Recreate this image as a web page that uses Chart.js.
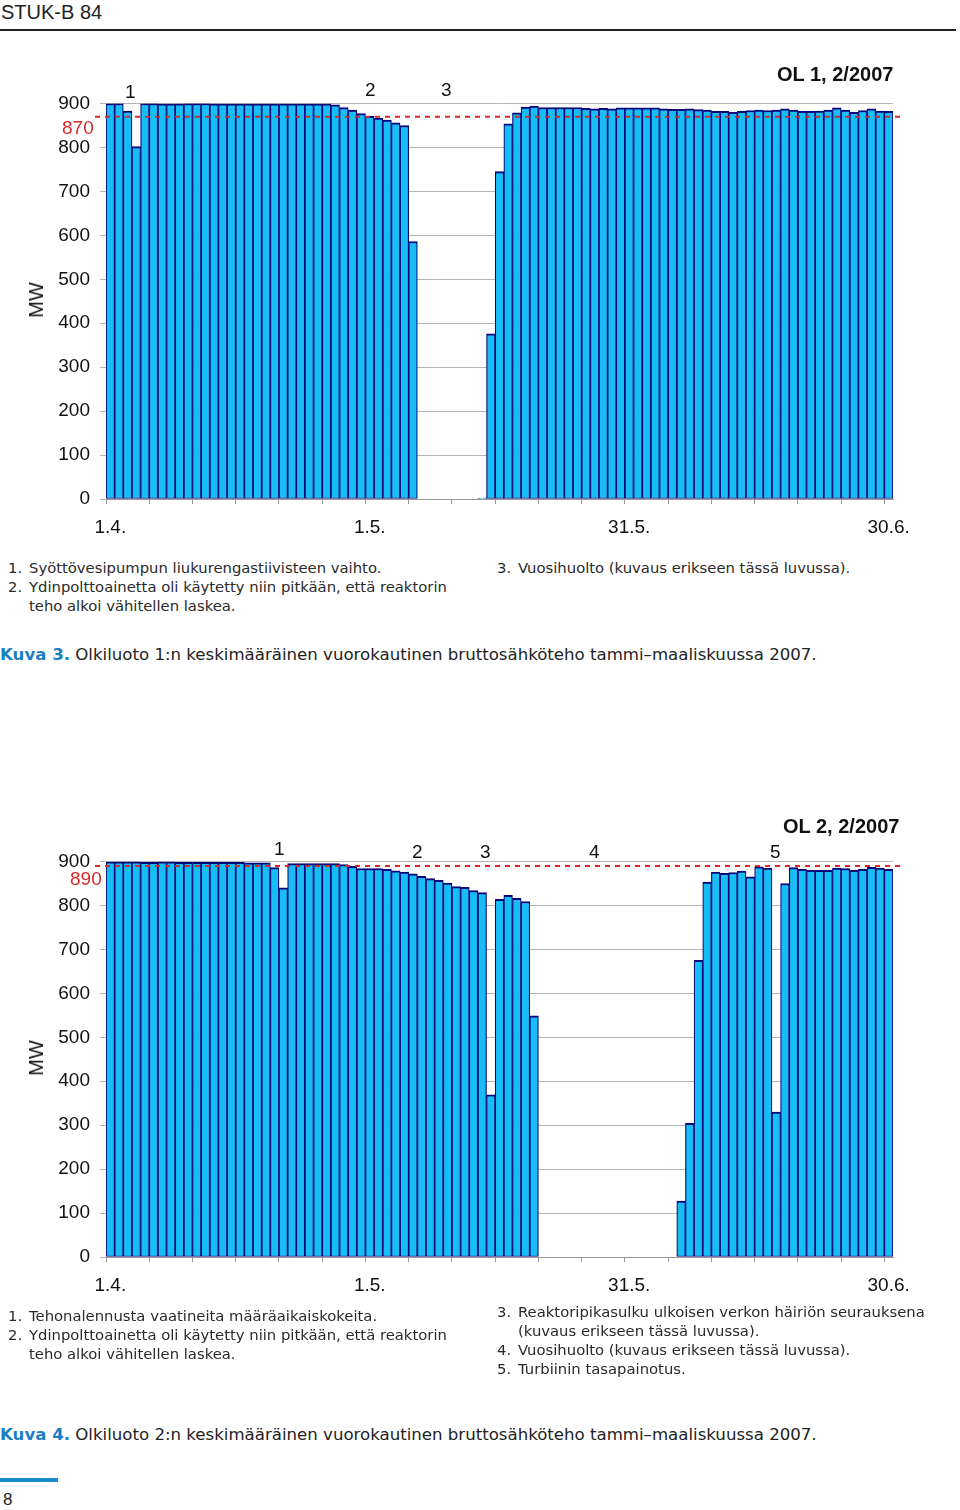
<!DOCTYPE html>
<html>
<head>
<meta charset="utf-8">
<script src="https://cdn.jsdelivr.net/npm/chart.js@4.4.0/dist/chart.umd.min.js"></script>
<style>
  body { margin: 0; width: 960px; height: 1510px; position: relative; background: #fff;
         font-family: "Liberation Sans", Arial, sans-serif; color: #111; overflow: hidden; }
  .t { position: absolute; white-space: nowrap; line-height: 1; }
  .note { position: absolute; white-space: nowrap; font-family: "DejaVu Sans", sans-serif; font-size: 14.8px; line-height: 19px; color: #2a2a2a; }
  .note span { display: inline-block; width: 21px; }
  .note .ind { padding-left: 21px; }
  .cap { position: absolute; left: 0; white-space: nowrap; font-family: "DejaVu Sans", sans-serif; font-size: 16.6px; line-height: 1; color: #222; }
  .cap b { font-weight: bold; color: #1a80c4; }
  canvas { position: absolute; left: 0; }
</style>
</head>
<body>
<div class="t" style="left:1px;top:2px;font-size:20px;color:#222">STUK-B 84</div>
<div style="position:absolute;left:0;top:29px;width:956px;height:2px;background:#222"></div>

<!-- Kuva 3 -->
<canvas id="chart1" width="960" height="510" style="top:40px"></canvas>
<div class="t" style="left:777px;top:64px;font-size:20px;font-weight:bold">OL 1, 2/2007</div>
<div class="t" style="left:125px;top:82px;font-size:19px">1</div>
<div class="t" style="left:365px;top:80px;font-size:19px">2</div>
<div class="t" style="left:441px;top:80px;font-size:19px">3</div>
<div class="t" style="left:62px;top:118px;font-size:19px;color:#d42a2a">870</div>
<div class="t" style="left:36px;top:300px;font-size:20px;transform:translate(-50%,-50%) rotate(-90deg)">MW</div>
<div class="note" style="left:8px;top:558px">
  <div><span>1.</span>Syöttövesipumpun liukurengastiivisteen vaihto.</div>
  <div><span>2.</span>Ydinpolttoainetta oli käytetty niin pitkään, että reaktorin</div>
  <div class="ind">teho alkoi vähitellen laskea.</div>
</div>
<div class="note" style="left:497px;top:558px">
  <div><span>3.</span>Vuosihuolto (kuvaus erikseen tässä luvussa).</div>
</div>
<div class="cap" style="top:647px"><b>Kuva 3.</b> Olkiluoto 1:n keskimääräinen vuorokautinen bruttosähköteho tammi–maaliskuussa 2007.</div>

<!-- Kuva 4 -->
<canvas id="chart2" width="960" height="510" style="top:798px"></canvas>
<div class="t" style="left:783px;top:816px;font-size:20px;font-weight:bold">OL 2, 2/2007</div>
<div class="t" style="left:274px;top:839px;font-size:19px">1</div>
<div class="t" style="left:412px;top:842px;font-size:19px">2</div>
<div class="t" style="left:480px;top:842px;font-size:19px">3</div>
<div class="t" style="left:589px;top:842px;font-size:19px">4</div>
<div class="t" style="left:770px;top:842px;font-size:19px">5</div>
<div class="t" style="left:70px;top:869px;font-size:19px;color:#d42a2a">890</div>
<div class="t" style="left:36px;top:1058px;font-size:20px;transform:translate(-50%,-50%) rotate(-90deg)">MW</div>
<div class="note" style="left:8px;top:1306px">
  <div><span>1.</span>Tehonalennusta vaatineita määräaikaiskokeita.</div>
  <div><span>2.</span>Ydinpolttoainetta oli käytetty niin pitkään, että reaktorin</div>
  <div class="ind">teho alkoi vähitellen laskea.</div>
</div>
<div class="note" style="left:497px;top:1302px">
  <div><span>3.</span>Reaktoripikasulku ulkoisen verkon häiriön seurauksena</div>
  <div class="ind">(kuvaus erikseen tässä luvussa).</div>
  <div><span>4.</span>Vuosihuolto (kuvaus erikseen tässä luvussa).</div>
  <div><span>5.</span>Turbiinin tasapainotus.</div>
</div>
<div class="cap" style="top:1427px"><b>Kuva 4.</b> Olkiluoto 2:n keskimääräinen vuorokautinen bruttosähköteho tammi–maaliskuussa 2007.</div>

<div style="position:absolute;left:0;top:1478px;width:58px;height:4px;background:#1a8ccf"></div>
<div class="t" style="left:3px;top:1491px;font-size:17px;color:#222">8</div>

<script>
// päivät 1.4. - 30.6.
const monthDays = [[4, 30], [5, 31], [6, 30]];
const days = [];
monthDays.forEach(([m, n]) => {
  for (let d = 1; d <= n; d++) days.push(d + '.' + m + '.');
});
const shownLabels = ['1.4.', '1.5.', '31.5.', '30.6.'];
const yTicks = [0, 100, 200, 300, 400, 500, 600, 700, 800, 900];

// OL 1, MW per vuorokausi
const ol1Power = [
  900, 900, 883, 802,
  900, 900, 899, 899, 899, 900, 900, 900, 899, 899, 899, 899, 899, 899, 899, 899, 899, 899, 899, 899, 899,
  899, 897, 891, 885, 877, 871, 867, 862, 856, 850, 586,
  null, null, null, null, null, null, null,
  2, 376, 745, 854, 879,
  892, 894, 891, 891, 891, 891, 891, 889, 888, 889, 888, 890, 890, 890, 890, 890, 888, 887, 887, 888,
  886, 885, 882, 882, 880, 882, 884, 885, 884, 885, 888, 885, 882, 882, 883, 885, 890, 885, 880, 884,
  888, 883, 882
];
const ol1Ref = 870;

// OL 2, MW per vuorokausi
const ol2Power = [
  899, 899, 899, 899, 898, 898, 899, 899, 898, 898, 898, 898, 898, 898, 898, 898, 897, 897, 897,
  886, 840,
  895, 895, 895, 895, 895, 895, 893,
  889, 884, 884, 884, 882, 879, 876, 872, 866, 861, 857, 851, 843, 841, 834, 829,
  369, 814, 823, 816, 809, 549,
  null, null, null, null, null, null, null, null, null, null, null, null, null, null, null, null,
  127, 304, 675, 853, 876, 873, 875, 878, 865, 888, 885, 330, 850, 886, 882, 880, 880, 880, 885, 884,
  880, 882, 887, 885, 882
];
const ol2Ref = 890;

// punainen katkoviiva
const refLine = {
  id: 'refLine',
  afterDatasetsDraw(chart, args, opts) {
    const { ctx, chartArea, scales } = chart;
    const py = scales.y.getPixelForValue(opts.value);
    ctx.save();
    ctx.strokeStyle = '#d42a2a';
    ctx.lineWidth = 2;
    ctx.setLineDash([5, 5]);
    ctx.beginPath();
    ctx.moveTo(chartArea.left - 11, py);
    ctx.lineTo(chartArea.right + opts.extend, py);
    ctx.stroke();
    ctx.restore();
  }
};

function makeChart(id, values, ref, extend) {
  const ctx = document.getElementById(id).getContext('2d');
  return new Chart(ctx, {
    type: 'bar',
    data: {
      labels: days,
      datasets: [{
        data: values,
        backgroundColor: '#18bdf6',
        borderColor: '#06067a',
        borderWidth: { top: 2, left: 1.2, right: 1.2, bottom: 1 },
        borderSkipped: false,
        barPercentage: 1,
        categoryPercentage: 1
      }]
    },
    options: {
      responsive: false,
      animation: false,
      layout: { padding: { top: 63.5, right: 67, left: 0, bottom: 0 } },
      plugins: {
        legend: { display: false },
        tooltip: { enabled: false },
        refLine: { value: ref, extend: extend }
      },
      scales: {
        x: {
          afterFit: s => { s.height = 51; },
          grid: {
            offset: true,
            drawOnChartArea: false,
            tickLength: 5,
            color: c => (c.index % 5 === 0 ? '#999' : 'rgba(0,0,0,0)')
          },
          border: { color: '#999' },
          ticks: {
            autoSkip: false,
            maxRotation: 0,
            padding: 12,
            color: '#111',
            font: { family: 'Liberation Sans', size: 19 },
            callback: function(v, i) {
              const lab = days[i];
              return shownLabels.includes(lab) ? lab : '';
            }
          }
        },
        y: {
          min: 0,
          max: 900,
          afterFit: s => { s.width = 106; },
          afterBuildTicks: s => { s.ticks = yTicks.map(v => ({ value: v })); },
          grid: { color: '#b4b4b4', tickLength: 6 },
          border: { display: false },
          ticks: {
            padding: 10,
            color: '#111',
            font: { family: 'Liberation Sans', size: 19 }
          }
        }
      }
    },
    plugins: [refLine]
  });
}

makeChart('chart1', ol1Power, ol1Ref, 10);
makeChart('chart2', ol2Power, ol2Ref, 12);
</script>
</body>
</html>
